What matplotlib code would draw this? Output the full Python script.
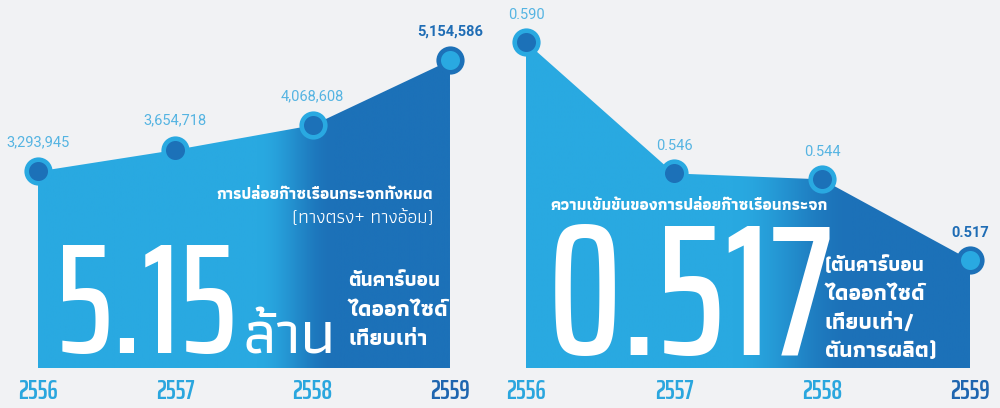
import matplotlib
matplotlib.use("Agg")
import warnings
warnings.filterwarnings("ignore")
import numpy as np
import matplotlib.pyplot as plt
from matplotlib.patches import Polygon
from matplotlib.colors import to_rgb

# ---------------- data ----------------
YEARS = ["2556", "2557", "2558", "2559"]
EMISSIONS = [3293945, 3654718, 4068608, 5154586]
EMISSION_LABELS = ["3,293,945", "3,654,718", "4,068,608", "5,154,586"]
INTENSITY = [0.590, 0.546, 0.544, 0.517]
INTENSITY_LABELS = ["0.590", "0.546", "0.544", "0.517"]

LEFT_TITLE = "การปล่อยก๊าซเรือนกระจกทั้งหมด"
LEFT_SUB = "(ทางตรง+ ทางอ้อม)"
LEFT_BIG = "5.15"
LEFT_UNIT = "ล้าน"
LEFT_UNIT_LINES = ["ตันคาร์บอน", "ไดออกไซด์", "เทียบเท่า"]
RIGHT_TITLE = "ความเข้มข้นของการปล่อยก๊าซเรือนกระจก"
RIGHT_BIG = "0.517"
RIGHT_UNIT_LINES = ["(ตันคาร์บอน", "ไดออกไซด์", "เทียบเท่า/", "ตันการผลิต)"]

# ---------------- style ----------------
BG = "#f1f2f4"
LIGHT = "#29a9e1"
DARK = "#1c71b8"
LABEL_LIGHT = "#55b4e2"
LABEL_DARK = "#1f6db5"
YEAR_LIGHT = "#2aa6de"
YEAR_DARK = "#1f66b0"

NUM_FONT = ["Saira ExtraCondensed", "Saira Extra Condensed", "League Gothic",
            "Oswald", "Barlow Condensed", "DejaVu Sans"]
THAI_FONT = ["Athiti", "Noto Sans Thai", "DejaVu Sans"]
LABEL_FONT = ["Roboto", "DejaVu Sans"]

W, H = 1000, 408
fig = plt.figure(figsize=(W / 100, H / 100), dpi=100, facecolor=BG)


def gradient_area(ax, values, t0, t1):
    xs = np.arange(len(values))
    base = ax.get_ylim()[0]
    verts = [(xs[0], base)] + list(zip(xs, values)) + [(xs[-1], base)]
    poly = Polygon(verts, closed=True, facecolor="none", edgecolor="none")
    ax.add_patch(poly)
    gx = np.linspace(xs[0], xs[-1], 600)
    s = np.clip((gx - t0) / (t1 - t0), 0, 1)
    s = s * s * (3 - 2 * s)
    c = (1 - s)[:, None] * np.array(to_rgb(LIGHT)) + s[:, None] * np.array(to_rgb(DARK))
    im = ax.imshow(c[None, :, :], extent=(xs[0], xs[-1], base, max(values)),
                   aspect="auto", origin="lower", interpolation="bilinear", zorder=1)
    im.set_clip_path(poly)


def markers_and_labels(ax, values, labels, offset):
    n = len(values)
    for i, (v, lab) in enumerate(zip(values, labels)):
        last = i == n - 1
        ax.plot(i, v, "o", ms=17, mew=3.3,
                mfc=LIGHT if last else DARK, mec=DARK if last else LIGHT,
                zorder=5, clip_on=False)
        ax.annotate(lab, (i, v), xytext=(0, offset), textcoords="offset points",
                    ha="center", va="center", fontsize=10.5,
                    color=LABEL_DARK if last else LABEL_LIGHT,
                    fontweight="semibold" if last else "normal",
                    family=LABEL_FONT, zorder=6)


def style_axes(ax):
    ax.set_facecolor("none")
    for sp in ax.spines.values():
        sp.set_visible(False)
    ax.set_yticks([])
    ax.set_xticks(range(len(YEARS)))
    ax.set_xticklabels(YEARS, family=NUM_FONT, fontsize=19, fontweight="semibold")
    ax.tick_params(axis="x", length=0, pad=8)
    labs = ax.get_xticklabels()
    for i, t in enumerate(labs):
        t.set_color(YEAR_DARK if i == len(labs) - 1 else YEAR_LIGHT)


# ---------------- left panel ----------------
axL = fig.add_axes([0, 40 / H, 0.5, 368 / H])
axL.set_xlim(-38 / 137.33, 462 / 137.33)
axL.set_ylim(0, 368 / 59.66e-6)
gradient_area(axL, EMISSIONS, 1.6, 2.15)
axL.set_xlim(-38 / 137.33, 462 / 137.33)
axL.set_ylim(0, 368 / 59.66e-6)
markers_and_labels(axL, EMISSIONS, EMISSION_LABELS, 21)
style_axes(axL)

# ---------------- right panel ----------------
axR = fig.add_axes([0.5, 40 / H, 0.5, 368 / H])
axR.set_xlim(-26 / 148, 474 / 148)
axR.set_ylim(0.4808, 0.6041)
gradient_area(axR, INTENSITY, 1.4, 2.2)
axR.set_xlim(-26 / 148, 474 / 148)
axR.set_ylim(0.4808, 0.6041)
markers_and_labels(axR, INTENSITY, INTENSITY_LABELS, 19.5)
style_axes(axR)

# ---------------- overlay texts ----------------
renderer = fig.canvas.get_renderer()


def put(s, x, y, family, size, ha="left", weight="normal", stretch="normal",
        fit_w=None):
    t = fig.text(x / W, 1 - y / H, s, ha=ha, va="baseline", color="white",
                 family=family, fontsize=size, fontweight=weight,
                 fontstretch=stretch, zorder=10)
    if fit_w is not None:
        w = t.get_window_extent(renderer).width
        t.set_fontsize(size * fit_w / w)
    return t


put(LEFT_TITLE, 433, 199, THAI_FONT, 20, ha="right", weight="bold",
    stretch="condensed", fit_w=216)
put(LEFT_SUB, 434, 223, THAI_FONT, 14, ha="right", weight="normal",
    fit_w=142)
put(LEFT_BIG, 56, 353, NUM_FONT, 134, weight="medium", fit_w=182)
put(LEFT_UNIT, 243, 353, THAI_FONT, 60, weight="medium", stretch="condensed",
    fit_w=92)
for k, line in enumerate(LEFT_UNIT_LINES):
    put(line, 348, 286 + 29.5 * k, THAI_FONT, 16, weight="bold",
        stretch="condensed", fit_w=92 if k == 0 else None)

put(RIGHT_TITLE, 550, 210, THAI_FONT, 20, weight="bold",
    stretch="condensed", fit_w=277)
put(RIGHT_BIG, 548, 355, NUM_FONT, 134, weight="medium")
for k, line in enumerate(RIGHT_UNIT_LINES):
    put(line, 825, 271 + 28.7 * k, THAI_FONT, 16, weight="bold",
        stretch="condensed", fit_w=100 if k == 0 else None)

fig.savefig("out.png", dpi=100, facecolor=BG)
